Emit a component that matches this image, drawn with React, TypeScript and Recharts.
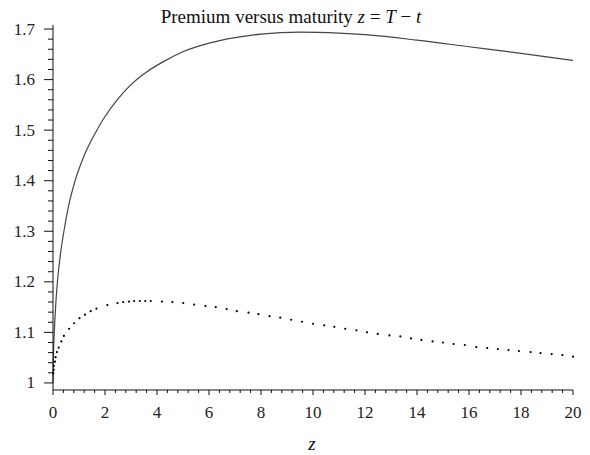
import { LineChart, Line, XAxis, YAxis } from "recharts";

// solid curve: premium vs maturity
const solidZ = [0, 0.02, 0.05, 0.1, 0.17, 0.3, 0.42, 0.6, 0.85, 1.2, 1.6, 2.0, 2.5, 3.0, 3.6, 4.3, 5.0, 6.0, 7.0, 8.0, 9.5, 11, 12, 14, 16, 18, 20];
const solidV = [1.0, 1.06, 1.1, 1.15, 1.2, 1.26, 1.3, 1.35, 1.4, 1.45, 1.492, 1.527, 1.562, 1.59, 1.615, 1.637, 1.655, 1.672, 1.683, 1.69, 1.694, 1.692, 1.689, 1.678, 1.665, 1.652, 1.638];

// dotted curve
const dotZ = [0.01, 0.027, 0.04, 0.08, 0.1, 0.15, 0.22, 0.32, 0.42, 0.62, 0.81, 1.02, 1.23, 1.45, 1.67, 2.09, 2.48, 2.7, 2.92, 3.12, 3.34, 3.55, 3.76, 4.19, 4.59, 5.01, 5.43, 5.86, 6.26, 6.68, 7.07, 7.52, 7.9, 8.33, 8.74, 9.16, 9.58, 10.0, 10.43, 10.82, 11.24, 11.67, 12.08, 12.49, 12.94, 13.36, 13.77, 14.17, 14.6, 15.0, 15.41, 15.84, 16.28, 16.7, 17.11, 17.52, 17.92, 18.37, 18.75, 19.18, 19.59, 20.0];
const dotV = [1.019, 1.026, 1.034, 1.042, 1.051, 1.061, 1.07, 1.082, 1.093, 1.107, 1.118, 1.128, 1.135, 1.142, 1.147, 1.154, 1.158, 1.16, 1.161, 1.162, 1.162, 1.162, 1.162, 1.161, 1.16, 1.158, 1.155, 1.152, 1.15, 1.146, 1.142, 1.139, 1.136, 1.132, 1.129, 1.125, 1.121, 1.117, 1.114, 1.111, 1.107, 1.104, 1.1, 1.097, 1.094, 1.092, 1.088, 1.085, 1.082, 1.08, 1.077, 1.075, 1.071, 1.069, 1.067, 1.065, 1.063, 1.061, 1.059, 1.057, 1.055, 1.052];

const xMajor = [0, 2, 4, 6, 8, 10, 12, 14, 16, 18, 20];
const yMajor = [1, 1.1, 1.2, 1.3, 1.4, 1.5, 1.6, 1.7];

const solidData = solidZ.map((z, i) => ({ z, v: solidV[i] }));
const dotData = dotZ.map((z, i) => ({ z, v: dotV[i] }));

// minor ticks: 0.4 on x, 0.02 on y
const xTicks: number[] = [];
for (let i = 0; i <= 50; i++) xTicks.push(Math.round(i * 4) / 10);
const yTicks: number[] = [];
for (let i = 0; i <= 35; i++) yTicks.push(Math.round((1 + i * 0.02) * 100) / 100);

const isMajor = (v: number, list: number[]) => list.some((m) => Math.abs(m - v) < 1e-6);

const FONT = "'Liberation Serif', 'DejaVu Serif', serif";

const XTick = (props: any) => {
  const { x, y, payload } = props;
  const major = isMajor(payload.value, xMajor);
  return (
    <g>
      <line x1={x} x2={x} y1={y} y2={y + (major ? 5 : 3)} stroke="#111" strokeWidth={1} />
      {major && (
        <text x={x} y={y + 28} textAnchor="middle" fontSize={17} fontFamily={FONT} fill="#222">
          {payload.value}
        </text>
      )}
    </g>
  );
};

const YTick = (props: any) => {
  const { x, y, payload } = props;
  const major = isMajor(payload.value, yMajor);
  return (
    <g>
      <line x1={x - (major ? 9 : 5)} x2={x} y1={y} y2={y} stroke="#111" strokeWidth={1} />
      {major && (
        <text x={x - 18} y={y + 5.5} textAnchor="end" fontSize={17} fontFamily={FONT} fill="#222">
          {payload.value}
        </text>
      )}
    </g>
  );
};

export default function App() {
  return (
    <div style={{ margin: "-8px 0 0 -8px", width: 590, height: 455 }}>
      <LineChart width={590} height={455} margin={{ top: 25, right: 17, left: 0, bottom: 15 }}>
        <XAxis
          type="number"
          dataKey="z"
          domain={[0, 20]}
          ticks={xTicks}
          interval={0}
          tick={<XTick />}
          tickLine={false}
          tickSize={0}
          tickMargin={0}
          height={50}
          axisLine={{ stroke: "#111" }}
          allowDuplicatedCategory={false}
        />
        <YAxis
          type="number"
          dataKey="v"
          domain={[0.986, 1.708]}
          ticks={yTicks}
          interval={0}
          tick={<YTick />}
          tickLine={false}
          tickSize={0}
          tickMargin={0}
          width={53}
          axisLine={{ stroke: "#111" }}
          allowDataOverflow
        />
        <Line
          data={solidData}
          dataKey="v"
          type="monotone"
          stroke="#444"
          strokeWidth={1.2}
          dot={false}
          activeDot={false}
          isAnimationActive={false}
        />
        <Line
          data={dotData}
          dataKey="v"
          type="linear"
          stroke="none"
          dot={{ r: 1.1, fill: "#000", stroke: "none" }}
          activeDot={false}
          isAnimationActive={false}
        />
        <text x={291} y={23} textAnchor="middle" fontSize={19} fontFamily={FONT} fill="#111">
          Premium versus maturity <tspan fontStyle="italic">z</tspan> = <tspan fontStyle="italic">T</tspan> − <tspan fontStyle="italic">t</tspan>
        </text>
        <text x={312} y={450} textAnchor="middle" fontSize={19} fontFamily={FONT} fontStyle="italic" fill="#111">
          z
        </text>
      </LineChart>
    </div>
  );
}
